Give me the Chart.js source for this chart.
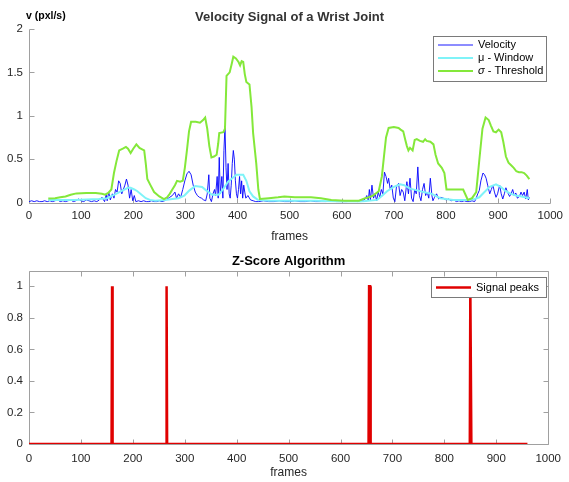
<!DOCTYPE html>
<html lang="en">
<head>
<meta charset="UTF-8">
<title>Velocity Signal of a Wrist Joint</title>
<script src="https://cdn.jsdelivr.net/npm/chart.js"></script>
<style>
  body { margin: 0; background: #fff; }
  #wrap { position: relative; width: 569px; height: 482px; }
  canvas { position: absolute; left: 0; }
  #topChart { top: 0; }
  #zChart { top: 250px; }
</style>
</head>
<body>
<div id="wrap">
  <canvas id="topChart" width="569" height="250"></canvas>
  <canvas id="zChart" width="569" height="232"></canvas>
</div>
<script>
// velocity of the wrist (pxl/s)
var velFrames = [0,5,10,15,20,25,30,35,40,45,50,55,60,65,70,75,80,85,90,95,100,105,110,115,120,125,130,135,140,145,
  148,150,153,156,160,163,166,169,172,175,178,181,184,187,190,193,196,199,202,205,210,215,220,225,230,235,240,245,250,255,260,265,270,275,280,283,287,291,295,299,
  303,307,311,315,319,323,327,331,335,339,342,345,347,350,353,356,358,361,363,365,367,370,372,374,376,378,380,382,384,386,388,390,392,394,396,398,
  400,402,404,406,408,410,412,414,416,420,425,430,435,440,450,460,470,480,490,500,510,520,530,540,550,560,570,580,590,600,610,620,630,640,645,
  648,651,653,655,658,661,664,667,670,673,676,679,682,685,688,690,693,696,699,702,705,709,712,715,718,721,725,728,731,734,737,740,743,746,749,752,755,758,761,764,767,770,773,775,778,782,786,790,795,
  800,805,810,815,820,825,830,835,840,845,850,855,858,861,864,867,871,874,877,880,884,887,890,893,896,899,903,906,909,912,915,918,922,925,928,931,934,937,941,944,947,950,953,956,958,960];
var velValues = [0.01,0.02,0.01,0.02,0.01,0.01,0.02,0.01,0.02,0.01,0.02,0.03,0.01,0.02,0.01,0.02,0.03,0.01,0.02,0.04,0.02,0.01,0.03,0.02,0.01,0.02,0.01,0.03,0.06,0.01,
  0.09,0.02,0.12,0.03,0.1,0.05,0.15,0.12,0.25,0.22,0.1,0.15,0.2,0.27,0.2,0.05,0.15,0.02,0.08,0.01,0.02,0.01,0.02,0.01,0.01,0.02,0.01,0.01,0.02,0.01,0.02,0.04,0.06,0.08,0.12,0.05,0.1,0.06,0.15,0.25,
  0.33,0.36,0.32,0.2,0.12,0.08,0.06,0.05,0.03,0.02,0.1,0.32,0.05,0.01,0.1,0.15,0.08,0.3,0.05,0.52,0.1,0.3,0.05,0.6,0.88,0.4,0.15,0.45,0.1,0.05,0.2,0.45,0.6,0.5,0.25,0.1,
  0.05,0.15,0.3,0.1,0.25,0.05,0.2,0.12,0.05,0.08,0.03,0.02,0.01,0.01,0.02,0.01,0.01,0.02,0.01,0.01,0.02,0.01,0.01,0.02,0.01,0.01,0.01,0.02,0.01,0.01,0.01,0.02,0.01,0.02,0.04,
  0.08,0.02,0.15,0.03,0.2,0.05,0.1,0.02,0.12,0.06,0.15,0.1,0.35,0.3,0.22,0.28,0.15,0.2,0.05,0.01,0.18,0.22,0.08,0.15,0.12,0.02,0.24,0.1,0.28,0.05,0.01,0.15,0.1,0.41,0.08,0.02,0.15,0.22,0.08,0.12,0.05,0.28,0.08,0.02,0.06,0.1,0.04,0.06,0.05,
  0.03,0.04,0.02,0.03,0.01,0.02,0.01,0.02,0.01,0.01,0.02,0.01,0.05,0.1,0.14,0.25,0.34,0.32,0.28,0.2,0.1,0.15,0.2,0.12,0.06,0.1,0.2,0.1,0.04,0.1,0.17,0.12,0.07,0.1,0.15,0.08,0.11,0.05,0.07,0.12,0.08,0.12,0.04,0.15,0.03,0.06];

// mu - window (moving mean)
var meanFrames = [37,60,87,110,134,150,160,167,180,190,195,202,208,216,224,232,242,261,275,287,298,308,319,332,340,351,364,372,382,390,398,411,417,423,430,439,
  460,500,550,600,636,650,668,678,687,700,712,720,731,745,757,773,782,789,800,814,842,855,864,872,884,896,905,915,925,934,945,960];
var meanValues = [0.03,0.03,0.03,0.035,0.04,0.05,0.08,0.1,0.14,0.17,0.17,0.15,0.13,0.09,0.05,0.03,0.02,0.03,0.04,0.05,0.08,0.14,0.19,0.18,0.14,0.09,0.09,0.15,0.24,0.28,0.32,0.32,0.25,0.13,0.07,0.03,
  0.02,0.02,0.02,0.01,0.01,0.02,0.03,0.08,0.13,0.18,0.21,0.2,0.16,0.14,0.12,0.1,0.07,0.05,0.04,0.03,0.03,0.04,0.06,0.11,0.18,0.21,0.18,0.13,0.1,0.08,0.07,0.05];

// sigma - threshold
var thrFrames = [37,50,60,70,80,91,110,128,140,146,152,158,163,168,173,180,186,190,195,200,206,212,218,221,224,227,233,240,250,259,265,270,275,280,284,290,295,299,
  303,307,311,320,328,334,338,342,346,350,355,360,363,365,373,376,379,385,389,392,397,402,405,408,411,414,417,423,427,430,436,440,443,460,478,490,510,541,560,580,605,633,645,
  652,660,671,677,681,685,690,700,709,713,718,722,725,728,731,736,740,744,750,756,760,763,770,776,780,785,792,797,801,810,820,833,842,850,858,864,870,876,882,886,891,896,901,906,910,915,920,925,930,935,940,945,950,955,960];
var thrValues = [0.045,0.05,0.06,0.07,0.09,0.105,0.11,0.11,0.1,0.09,0.11,0.15,0.34,0.48,0.6,0.62,0.64,0.62,0.57,0.62,0.67,0.63,0.61,0.6,0.45,0.27,0.2,0.12,0.07,0.04,0.06,0.1,0.15,0.2,0.25,0.24,0.25,0.4,
  0.6,0.82,0.93,0.93,0.92,0.95,0.98,0.85,0.65,0.52,0.53,0.55,0.68,0.8,0.81,0.85,1.46,1.5,1.6,1.68,1.66,1.62,1.58,1.63,1.62,1.48,1.39,1.36,1.1,0.8,0.45,0.15,0.04,0.05,0.06,0.07,0.06,0.06,0.05,0.03,0.02,0.02,0.05,
  0.06,0.08,0.13,0.3,0.53,0.75,0.86,0.87,0.86,0.84,0.82,0.72,0.65,0.6,0.63,0.6,0.72,0.73,0.71,0.7,0.73,0.71,0.7,0.67,0.55,0.45,0.4,0.34,0.15,0.15,0.15,0.15,0.03,0.05,0.12,0.49,0.85,0.98,0.95,0.89,0.82,0.81,0.84,0.81,0.7,0.53,0.46,0.43,0.4,0.36,0.35,0.35,0.34,0.31,0.27];

// z-score output: signal peaks
var sigFrames = [0,159,160,161,264,265,266,654,655,657,658,849,850,851,852,960];
var sigValues = [0,0,1,0,0,1,0,0,1,1,0,0,1,1,0,0];

var xTicksStep = 100;
var topYTickStep = 0.5;
var zYTickStep = 0.2;

var axisColor = '#a0a0a0';
var textColor = '#262626';
var FONT = '"Liberation Sans", Arial, Helvetica, sans-serif';

function toPoints(xs, ys) {
  return xs.map(function (x, i) { return { x: x, y: ys[i] }; });
}

// plain labels like matlab: 0.5, 1, 1000
function plainTick(v) {
  return String(Math.round(v * 100) / 100);
}

// MATLAB style axes: inner ticks, optional box
function drawAxes(chart, box) {
  var ctx = chart.ctx, a = chart.chartArea;
  var xs = chart.scales.x, ys = chart.scales.y;
  var L = Math.round(a.left) + 0.5, R = Math.round(a.right) + 0.5;
  var T = Math.round(a.top) + 0.5, B = Math.round(a.bottom) + 0.5;
  ctx.save();
  ctx.strokeStyle = axisColor;
  ctx.lineWidth = 1;
  ctx.beginPath();
  ctx.moveTo(L, T); ctx.lineTo(L, B); ctx.lineTo(R, B);
  if (box) { ctx.moveTo(L, T); ctx.lineTo(R, T); ctx.lineTo(R, B); }
  xs.ticks.forEach(function (t) {
    var px = Math.round(xs.getPixelForValue(t.value)) + 0.5;
    ctx.moveTo(px, B); ctx.lineTo(px, B - 5);
    if (box) { ctx.moveTo(px, T); ctx.lineTo(px, T + 5); }
  });
  ys.ticks.forEach(function (t) {
    var py = Math.round(ys.getPixelForValue(t.value)) + 0.5;
    ctx.moveTo(L, py); ctx.lineTo(L + 5, py);
    if (box) { ctx.moveTo(R, py); ctx.lineTo(R - 5, py); }
  });
  ctx.stroke();
  ctx.restore();
}

function drawLegend(ctx, x, y, w, h, rows) {
  ctx.save();
  ctx.fillStyle = '#fff';
  ctx.fillRect(x, y, w, h);
  ctx.strokeStyle = '#7a7a7a';
  ctx.lineWidth = 1;
  ctx.strokeRect(x + 0.5, y + 0.5, w, h);
  ctx.textBaseline = 'middle';
  rows.forEach(function (r) {
    ctx.strokeStyle = r.color;
    ctx.lineWidth = r.width;
    ctx.beginPath();
    ctx.moveTo(x + 5, r.y); ctx.lineTo(x + 40, r.y);
    ctx.stroke();
    var tx = x + 45;
    ctx.fillStyle = '#000';
    if (r.italic) {
      ctx.font = 'italic 11px ' + FONT;
      ctx.fillText(r.italic, tx, r.y);
      tx += ctx.measureText(r.italic).width;
    }
    ctx.font = '11px ' + FONT;
    ctx.fillText(r.text, tx, r.y);
  });
  ctx.restore();
}

var topPlugin = {
  id: 'topDeco',
  beforeDatasetsDraw: function (chart) { drawAxes(chart, false); },
  afterDraw: function (chart) {
    var ctx = chart.ctx, a = chart.chartArea;
    var cx = (a.left + a.right) / 2;
    ctx.save();
    ctx.fillStyle = '#333';
    ctx.textAlign = 'center';
    ctx.textBaseline = 'middle';
    ctx.font = 'bold 13px ' + FONT;
    ctx.fillText('Velocity Signal of a Wrist Joint', cx, 17);
    ctx.fillStyle = textColor;
    ctx.font = '12px ' + FONT;
    ctx.fillText('frames', cx, 237);
    ctx.textAlign = 'left';
    ctx.fillStyle = '#000';
    ctx.font = 'bold 10.5px ' + FONT;
    ctx.fillText('v (pxl/s)', 26, 16);
    ctx.restore();
    drawLegend(ctx, 433, 36, 113, 45, [
      { y: 45, color: '#0000ff', width: 0.9, text: 'Velocity' },
      { y: 58, color: '#7ff3f8', width: 2, text: '\u03bc - Window' },
      { y: 71, color: '#84e83a', width: 2, italic: '\u03c3', text: ' - Threshold' }
    ]);
  }
};

var zPlugin = {
  id: 'zDeco',
  beforeDatasetsDraw: function (chart) { drawAxes(chart, true); },
  afterDraw: function (chart) {
    var ctx = chart.ctx, a = chart.chartArea;
    var cx = (a.left + a.right) / 2;
    ctx.save();
    ctx.fillStyle = '#000';
    ctx.textAlign = 'center';
    ctx.textBaseline = 'middle';
    ctx.font = 'bold 13px ' + FONT;
    ctx.fillText('Z-Score Algorithm', cx, 11);
    ctx.fillStyle = textColor;
    ctx.font = '12px ' + FONT;
    ctx.fillText('frames', cx, 223);
    ctx.restore();
    drawLegend(ctx, 431, 27, 115, 20, [
      { y: 37.5, color: '#e00000', width: 2.5, text: 'Signal peaks' }
    ]);
  }
};

function xScale(h, pad) {
  return {
    type: 'linear', min: 0, max: 1000,
    ticks: { stepSize: xTicksStep, padding: pad, color: textColor, font: { family: FONT, size: 11.5 }, maxRotation: 0, autoSkip: false, callback: plainTick },
    grid: { display: false, drawTicks: false },
    border: { display: false },
    afterFit: function (s) { s.height = h; }
  };
}

function yScale(max, step) {
  return {
    type: 'linear', min: 0, max: max,
    ticks: { stepSize: step, padding: 6, includeBounds: false, color: textColor, font: { family: FONT, size: 11.5 }, callback: plainTick },
    grid: { display: false, drawTicks: false },
    border: { display: false },
    afterFit: function (s) { s.width = 29; }
  };
}

var lineBase = { pointRadius: 0, fill: false, tension: 0 };

new Chart(document.getElementById('topChart').getContext('2d'), {
  type: 'line',
  data: {
    datasets: [
      Object.assign({ label: 'sigma - Threshold', data: toPoints(thrFrames, thrValues), borderColor: '#84e83a', borderWidth: 2 }, lineBase),
      Object.assign({ label: 'mu - Window', data: toPoints(meanFrames, meanValues), borderColor: '#7ff3f8', borderWidth: 2 }, lineBase),
      Object.assign({ label: 'Velocity', data: toPoints(velFrames, velValues), borderColor: '#0000ff', borderWidth: 0.9 }, lineBase)
    ]
  },
  options: {
    responsive: false,
    animation: false,
    layout: { padding: { top: 29, left: 0, right: 14, bottom: 0 } },
    scales: { x: xScale(47.5, 6), y: yScale(2, topYTickStep) },
    plugins: { legend: { display: false }, tooltip: { enabled: false } }
  },
  plugins: [topPlugin]
});

new Chart(document.getElementById('zChart').getContext('2d'), {
  type: 'line',
  data: {
    datasets: [
      Object.assign({ label: 'Signal peaks', data: toPoints(sigFrames, sigValues), borderColor: '#e00000', borderWidth: 2.5 }, lineBase)
    ]
  },
  options: {
    responsive: false,
    animation: false,
    layout: { padding: { top: 20.5, left: 0, right: 14, bottom: 0 } },
    scales: { x: xScale(38, 8), y: yScale(1.1, zYTickStep) },
    plugins: { legend: { display: false }, tooltip: { enabled: false } }
  },
  plugins: [zPlugin]
});
</script>
</body>
</html>
